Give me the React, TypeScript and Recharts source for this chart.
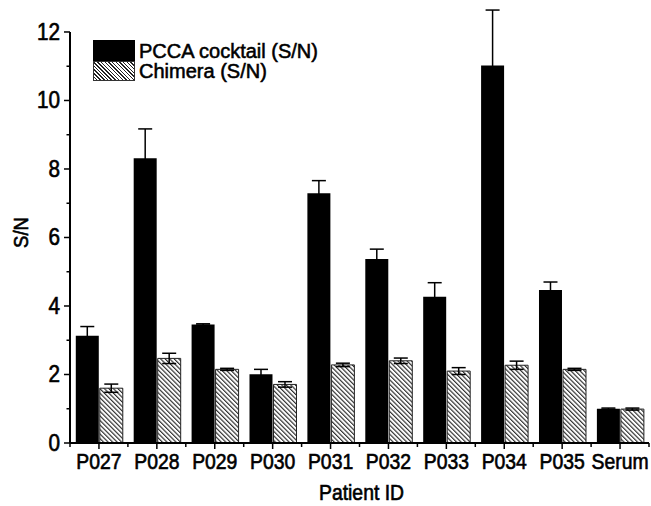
import { BarChart, Bar, XAxis, YAxis, ErrorBar, ReferenceLine } from 'recharts';

const CATEGORIES = ['P027', 'P028', 'P029', 'P030', 'P031', 'P032', 'P033', 'P034', 'P035', 'Serum'];
const PCCA = [3.13, 8.31, 3.46, 2.01, 7.29, 5.37, 4.27, 11.02, 4.47, 1.0];
const PCCA_ERR = [0.27, 0.86, 0.02, 0.14, 0.37, 0.29, 0.41, 1.62, 0.23, 0.02];
const CHIMERA = [1.6, 2.47, 2.15, 1.71, 2.28, 2.4, 2.1, 2.27, 2.15, 0.99];
const CHIMERA_ERR = [0.12, 0.15, 0.03, 0.08, 0.05, 0.08, 0.1, 0.12, 0.03, 0.03];
const Y_TICKS = [0, 1, 2, 3, 4, 5, 6, 7, 8, 9, 10, 11, 12];
const SERIES_NAMES = ['PCCA cocktail (S/N)', 'Chimera (S/N)'];

const W = 651;
const H = 506;
const MARGIN = { top: 8, right: 2, bottom: 8, left: 0 };
const Y_AXIS_W = 70;
const X_AXIS_H = 55;
const BAND = (W - MARGIN.left - MARGIN.right - Y_AXIS_W) / CATEGORIES.length;
const FONT = '"Liberation Sans", Arial, sans-serif';

// chart fills the whole window, so drop the default body margin
if (typeof document !== 'undefined') {
  document.body.style.margin = '0';
  document.body.style.overflow = 'hidden';
}

const data = CATEGORIES.map((name, i) => ({
  name,
  pcca: PCCA[i],
  pccaErr: PCCA_ERR[i],
  chimera: CHIMERA[i],
  chimeraErr: CHIMERA_ERR[i],
}));

// narrow, slightly heavy text like the Origin export
function Txt({ x, y, anchor = 'middle', size = 22, sx = 0.88, rotate = 0, children }: any) {
  return (
    <text
      transform={`translate(${x},${y}) rotate(${rotate}) scale(${sx},1)`}
      textAnchor={anchor}
      fontSize={size}
      fontFamily={FONT}
      fill="#000"
      stroke="#000"
      strokeWidth={0.65}
    >
      {children}
    </text>
  );
}

function YTick(props: any) {
  const { x, y, payload } = props;
  const v = payload.value;
  const major = v % 2 === 0;
  return (
    <g>
      <line x1={x - (major ? 6 : 3.5)} x2={x} y1={y} y2={y} stroke="#000" strokeWidth={1.5} />
      {major && (
        <Txt x={x - 10} y={y + 8} anchor="end" size={23} sx={0.9}>
          {v}
        </Txt>
      )}
    </g>
  );
}

function XTick(props: any) {
  const { x, y, payload, index } = props;
  const half = BAND / 2;
  return (
    <g>
      <line x1={x} x2={x} y1={y} y2={y + 6} stroke="#000" strokeWidth={1.5} />
      <line x1={x - half} x2={x - half} y1={y} y2={y + 4} stroke="#000" strokeWidth={1.5} />
      {index === CATEGORIES.length - 1 && (
        <line x1={x + half} x2={x + half} y1={y} y2={y + 4} stroke="#000" strokeWidth={1.5} />
      )}
      <Txt x={x} y={y + 26}>
        {payload.value}
      </Txt>
    </g>
  );
}

function YTitle(props: any) {
  const { viewBox } = props;
  const cx = viewBox.x + 28;
  const cy = viewBox.y + viewBox.height / 2 + 7;
  return (
    <Txt x={cx} y={cy} rotate={-90} size={21}>
      S/N
    </Txt>
  );
}

function XTitle(props: any) {
  const { viewBox } = props;
  return (
    <Txt x={viewBox.x + viewBox.width / 2 + 2} y={viewBox.y + 57}>
      Patient ID
    </Txt>
  );
}

const hatch = 'repeating-linear-gradient(45deg, #fff 0px, #fff 1.6px, #222 1.6px, #222 2.6px)';
const legendText = {
  marginLeft: 4,
  display: 'inline-block',
  whiteSpace: 'nowrap' as const,
  WebkitTextStroke: '0.55px #000',
};

export default function App() {
  return (
    <div style={{ position: 'relative', width: W, height: H, background: '#fff' }}>
      <BarChart
        width={W}
        height={H}
        data={data}
        margin={MARGIN}
        barCategoryGap="10%"
        barGap={1}
      >
        <defs>
          <pattern
            id="hatch"
            patternUnits="userSpaceOnUse"
            width={3.2}
            height={3.2}
            patternTransform="rotate(-45)"
          >
            <rect width={3.2} height={3.2} fill="#fff" />
            <line x1={0.6} y1={0} x2={0.6} y2={3.2} stroke="#222" strokeWidth={1.1} />
          </pattern>
        </defs>
        <XAxis
          dataKey="name"
          height={X_AXIS_H}
          axisLine={{ stroke: '#000', strokeWidth: 2 }}
          tickLine={false}
          tickSize={0}
          tickMargin={0}
          interval={0}
          tick={<XTick />}
          label={<XTitle />}
        />
        <YAxis
          width={Y_AXIS_W}
          domain={[0, 12.7]}
          ticks={Y_TICKS}
          interval={0}
          axisLine={false}
          tickLine={false}
          tickSize={0}
          tickMargin={0}
          tick={<YTick />}
          label={<YTitle />}
        />
        <ReferenceLine
          segment={[
            { x: CATEGORIES[0], y: 0 },
            { x: CATEGORIES[0], y: 12 },
          ]}
          position="start"
          stroke="#000"
          strokeWidth={2}
        />
        <Bar dataKey="pcca" name={SERIES_NAMES[0]} fill="#000" isAnimationActive={false}>
          <ErrorBar dataKey="pccaErr" width={7} stroke="#000" strokeWidth={1.5} />
        </Bar>
        <Bar
          dataKey="chimera"
          name={SERIES_NAMES[1]}
          fill="url(#hatch)"
          stroke="#222"
          strokeWidth={1}
          isAnimationActive={false}
        >
          <ErrorBar dataKey="chimeraErr" width={7} stroke="#000" strokeWidth={1.5} />
        </Bar>
      </BarChart>
      <div
        style={{
          position: 'absolute',
          left: 93,
          top: 40,
          fontFamily: FONT,
          fontSize: 20,
          color: '#000',
          lineHeight: '20px',
        }}
      >
        <div style={{ display: 'flex', alignItems: 'center', height: 21 }}>
          <div style={{ width: 42, height: 21, background: '#000', flexShrink: 0 }} />
          <span style={legendText}>{SERIES_NAMES[0]}</span>
        </div>
        <div style={{ display: 'flex', alignItems: 'center', height: 20 }}>
          <div
            style={{
              width: 40,
              height: 18,
              border: '1px solid #333',
              background: hatch,
              flexShrink: 0,
            }}
          />
          <span style={legendText}>{SERIES_NAMES[1]}</span>
        </div>
      </div>
    </div>
  );
}
